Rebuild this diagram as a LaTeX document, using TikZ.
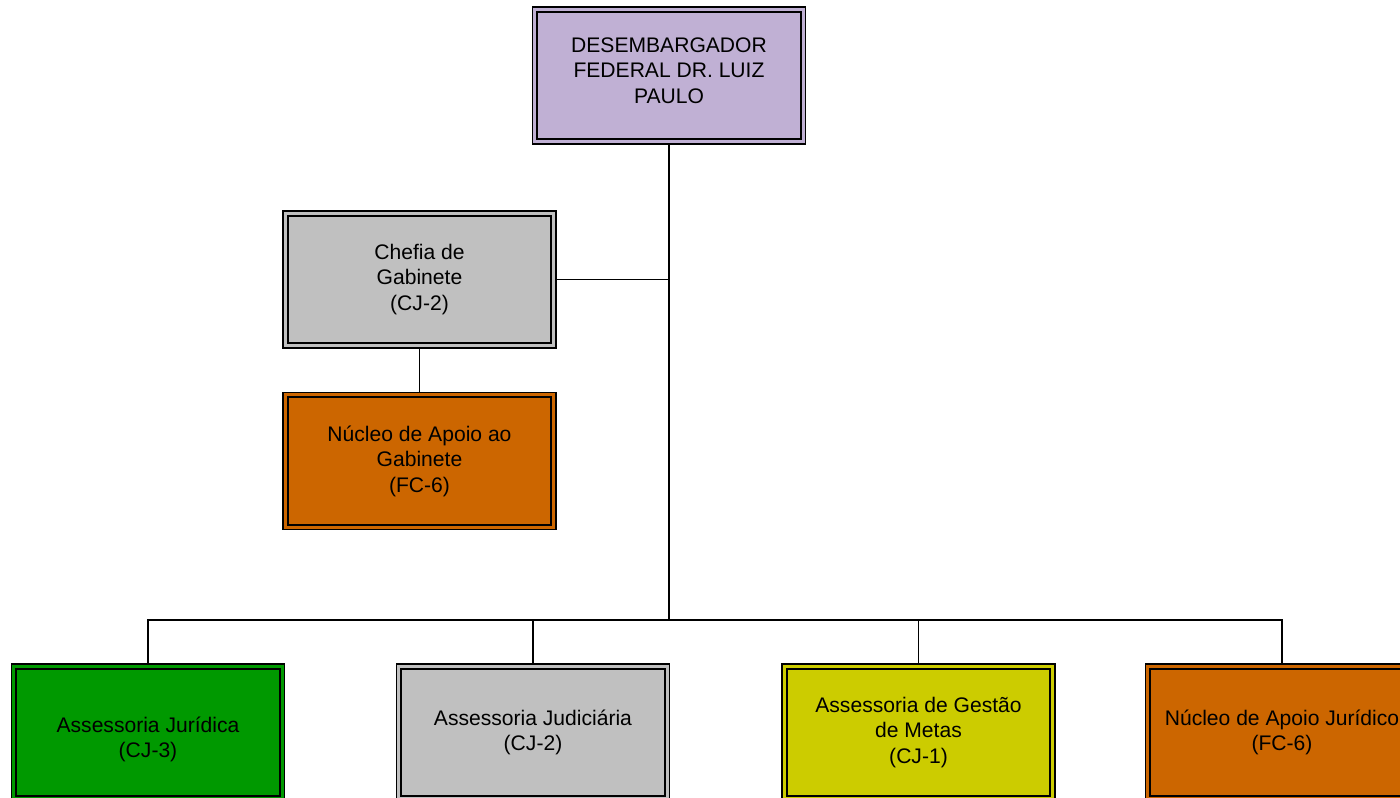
\documentclass[tikz,border=0pt]{standalone}
\usepackage{fontspec}
\setmainfont{Liberation Sans}
\usetikzlibrary{positioning}
\definecolor{lilas}{RGB}{192,176,212}
\definecolor{cinza}{RGB}{192,192,192}
\definecolor{laranja}{RGB}{204,102,0}
\definecolor{verde}{RGB}{0,153,0}
\definecolor{amarelo}{RGB}{204,204,0}
\tikzset{
  caixa/.style={draw, line width=0.7pt, fill=#1, align=center,
    minimum width=5.46cm, minimum height=2.74cm, inner sep=2pt,
    font=\fontsize{12}{14.5}\selectfont,
    path picture={\draw[line width=1.2pt]
      ([shift={(2.6pt,2.6pt)}]path picture bounding box.south west) rectangle
      ([shift={(-2.6pt,-2.6pt)}]path picture bounding box.north east);}},
  liga/.style={draw, line width=0.75pt}
}

\begin{document}
\begin{tikzpicture}[x=0.02cm,y=-0.02cm]
  \useasboundingbox (0,0) rectangle (1400,798);
  \clip (0,0) rectangle (1400,798);

  \node[caixa=lilas] (desemb) at (669,75.5) {DESEMBARGADOR\\FEDERAL DR. LUIZ\\PAULO\rule[-6pt]{0pt}{1pt}};
  \node[caixa=cinza] (chefia) at (419.5,279.5) {Chefia de\\Gabinete\\(CJ-2)};
  \node[caixa=laranja] (nucgab) at (419.5,461) {Núcleo de Apoio ao\\Gabinete\\(FC-6)};

  % linha de baixo
  \node[caixa=verde] (asjur) at (148,732.5) {\rule{0pt}{17pt}Assessoria Jurídica\\(CJ-3)};
  \node[caixa=cinza] (asjud) at (533,732.5) {Assessoria Judiciária\\(CJ-2)};
  \node[caixa=amarelo] (asmet) at (918.5,732.5) {Assessoria de Gestão\\de Metas\\(CJ-1)};
  \node[caixa=laranja] (nucjur) at (1282,732.5) {Núcleo de Apoio Jurídico\\(FC-6)};

  \coordinate (barra) at (669,620);

  \draw[liga] (desemb.south) -- (barra);
  \draw[liga] (chefia.east) -- (desemb.south |- chefia.east);
  \draw[liga] (chefia.south) -- (nucgab.north);
  \draw[liga] (asjur.north) |- (barra);
  \draw[liga] (asjud.north) |- (barra);
  \draw[liga] (asmet.north) |- (barra);
  \draw[liga] (nucjur.north) |- (barra);
\end{tikzpicture}
\end{document}
